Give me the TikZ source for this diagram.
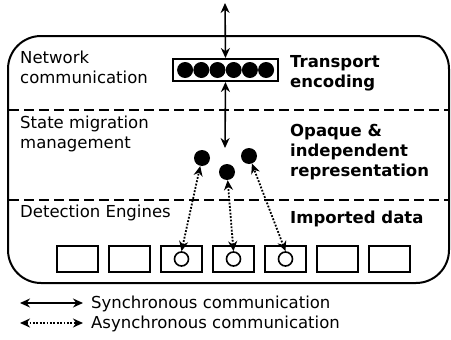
\documentclass[tikz,border=0pt]{standalone}
\usepackage{fontspec}
\setmainfont{DejaVu Sans}
\usetikzlibrary{arrows.meta}
\begin{document}
\begin{tikzpicture}[x=1pt,y=-1pt,
  lbl/.style={font=\fontsize{16.5}{20.5}\selectfont, align=left, anchor=north west, inner sep=0pt},
  blbl/.style={lbl, font=\fontsize{16.5}{20}\selectfont\bfseries},
  eng/.style={draw, line width=2pt, minimum width=41pt, minimum height=26pt, inner sep=0pt},
  sync/.style={line width=1.6pt, {Stealth[length=10pt,width=9pt]}-{Stealth[length=10pt,width=9pt]}},
  async/.style={sync, line width=1.8pt, dash pattern=on 1.8pt off 1.6pt},
  dot/.style={circle, fill=black, inner sep=0pt, minimum size=16pt},
  odot/.style={circle, draw, line width=1.6pt, inner sep=0pt, minimum size=14pt}]
\useasboundingbox (0,0) rectangle (451,340);
% outer box
\draw[line width=2pt, rounded corners=33pt] (8,36) rectangle (449,283);
\draw[line width=2pt, dash pattern=on 10pt off 5pt] (9,110) -- (448,110);
\draw[line width=2pt, dash pattern=on 10pt off 5pt] (9,200) -- (448,200);
% labels
\node[lbl] (net) at (20,50.5) {Network\\communication};
\node[lbl] (state) at (20,115.5) {State migration\\management};
\node[lbl] (det) at (20,204.5) {Detection Engines};
\node[blbl] (tr) at (290,55) {Transport\\encoding};
\node[blbl] (op) at (290,124.5) {Opaque \&\\independent\\representation};
\node[blbl] (imp) at (290,210.5) {Imported data};
% transport box
\node[draw, line width=2pt, minimum width=105pt, minimum height=22pt, inner sep=0pt] (tb) at (225.5,70) {};
\foreach \i in {0,...,5}
  \node[dot] (t\i) at (185.1+16.2*\i,70) {};
\coordinate (top) at (225,3);
\coordinate (mid) at (225,148);
\draw[sync] (top) -- (tb.north);
\draw[sync] (tb.south) -- (mid);
% state dots
\node[dot] (d1) at (202,158) {};
\node[dot] (d2) at (227,172) {};
\node[dot] (d3) at (249,156) {};
% engines
\foreach \i in {1,...,7}
  \node[eng] (e\i) at (77.5+52*\i-52,259) {};
\node[odot] (c3) at (e3) {};
\node[odot] (c4) at (e4) {};
\node[odot] (c5) at (e5) {};
\draw[async] (c3.north) -- (d1);
\draw[async] (c4.north) -- (d2);
\draw[async] (c5.north) -- (d3);
% legend
\coordinate (s1) at (20,303);
\coordinate (s2) at (83,303);
\coordinate (a1) at (20,323);
\coordinate (a2) at (83,323);
\draw[sync] (s1) -- (s2);
\draw[async] (a1) -- (a2);
\node[lbl, anchor=base west] (ls) at (91,308) {Synchronous communication};
\node[lbl, anchor=base west] (la) at (91,328) {Asynchronous communication};
\end{tikzpicture}
\end{document}
